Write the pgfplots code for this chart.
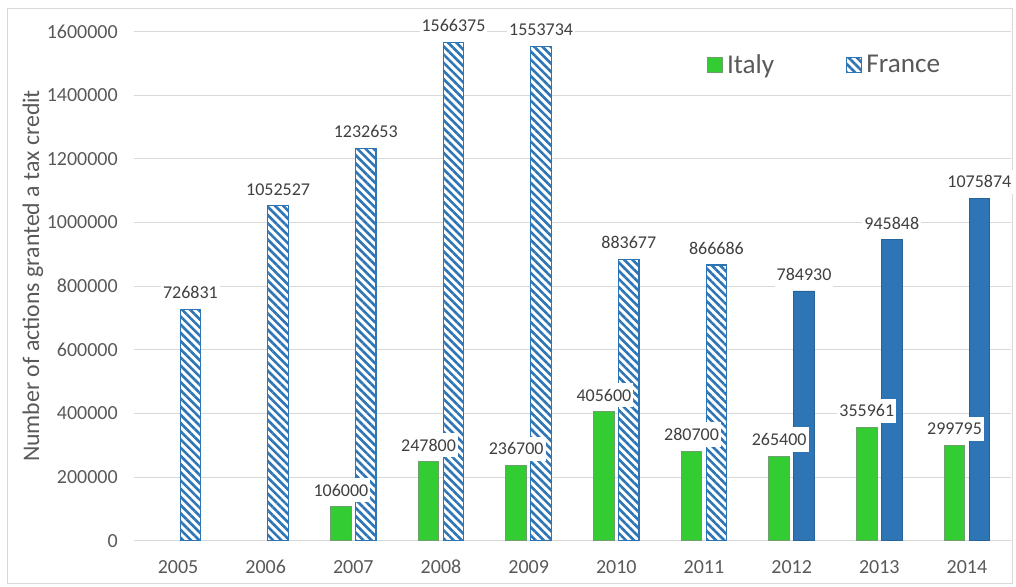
\documentclass[border=0pt]{standalone}
\usepackage{pgfplots}
\pgfplotsset{compat=1.18}
\usepackage{fontspec}
\setmainfont{Carlito}
\usetikzlibrary{patterns.meta}
\definecolor{itgreen}{RGB}{51,204,51}
\definecolor{itedge}{RGB}{110,160,110}
\definecolor{frblue}{RGB}{46,117,182}
\definecolor{gridgray}{RGB}{217,217,217}
\definecolor{ticktxt}{RGB}{89,89,89}
\definecolor{labtxt}{RGB}{64,64,64}
\tikzset{hatchfr/.style={fill=white, draw=frblue, line width=0.6pt,
  postaction={pattern={Lines[angle=-45,distance=2.9pt,line width=1.3pt]}, pattern color=frblue}}}
\begin{document}
\begin{tikzpicture}
\useasboundingbox (0,0) rectangle (508pt,293.5pt);
\draw[gridgray, line width=0.5pt] (3.5pt,1.5pt) rectangle (506pt,289pt);
\begin{axis}[
  at={(67.1pt,23.15pt)}, anchor=south west,
  scale only axis, width=438.3pt, height=254.5pt,
  ybar, clip=false,
  xmin=-0.5, xmax=9.5, ymin=0, ymax=1600000,
  scaled y ticks=false, scaled x ticks=false,
  xtick={0,...,9},
  xticklabels={2005,2006,2007,2008,2009,2010,2011,2012,2013,2014},
  ytick={0,200000,400000,600000,800000,1000000,1200000,1400000,1600000},
  yticklabels={0,200000,400000,600000,800000,1000000,1200000,1400000,1600000},
  major tick length=0pt,
  axis x line*=bottom, axis y line*=left,
  axis line style={draw=none},
  ymajorgrids, grid style={gridgray, line width=0.5pt},
  tick label style={font=\fontsize{10}{12}\selectfont, text=ticktxt},
  /pgf/number format/assume math mode=true,
  xticklabel style={yshift=-6.5pt, text height=6.6pt, text depth=0pt},
  yticklabel style={xshift=-4.7pt},
  ylabel={Number of actions granted a tax credit},
  every axis y label/.style={at={(axis description cs:-0.1155,0.52)}, rotate=90, anchor=center,
     font=\fontsize{11.9}{13}\selectfont, text=ticktxt},
  bar width=0.235,
  point meta=explicit symbolic,
  nodes near coords={\pgfplotspointmeta},
  every node near coord/.append style={fill=white, inner xsep=1pt, inner ysep=3pt,
     font=\fontsize{9}{10}\selectfont, text=labtxt, anchor=south, yshift=2pt},
  legend image code/.code={\draw[#1] (0pt,-3.75pt) rectangle (7.5pt,3.75pt);},
  legend style={draw=none, fill=none, at={(0.653,0.934)}, anchor=west, inner sep=0pt,
     font=\fontsize{13.6}{15}\selectfont, text=ticktxt,
     /tikz/every even column/.append style={column sep=34pt}},
  legend columns=2, legend cell align=left,
]
\addlegendimage{fill=itgreen, draw=itedge, line width=0.5pt}
\addlegendentry{Italy}
\addlegendimage{hatchfr}
\addlegendentry{France}
% France hatched 2005-2011
\addplot[hatchfr, bar shift=0.142, forget plot] coordinates {
 (0,726831) [726831]
 (1,1052527) [1052527]
 (2,1232653) [1232653]
 (3,1566375) [1566375]
 (4,1553734) [1553734]
 (5,883677) [883677]
 (6,866686) [866686]
};
% France solid 2012-2014
\addplot[fill=frblue, draw=frblue!85!black, line width=0.4pt, bar shift=0.142, forget plot] coordinates {
 (7,784930) [784930]
 (8,945848) [945848]
 (9,1075874) [1075874]
};
% Italy
\addplot[fill=itgreen, draw=itedge, line width=0.5pt, bar shift=-0.142, forget plot] coordinates {
 (2,106000) [106000]
 (3,247800) [247800]
 (4,236700) [236700]
 (5,405600) [405600]
 (6,280700) [280700]
 (7,265400) [265400]
 (8,355961) [355961]
 (9,299795) [299795]
};
\end{axis}
\end{tikzpicture}
\end{document}
